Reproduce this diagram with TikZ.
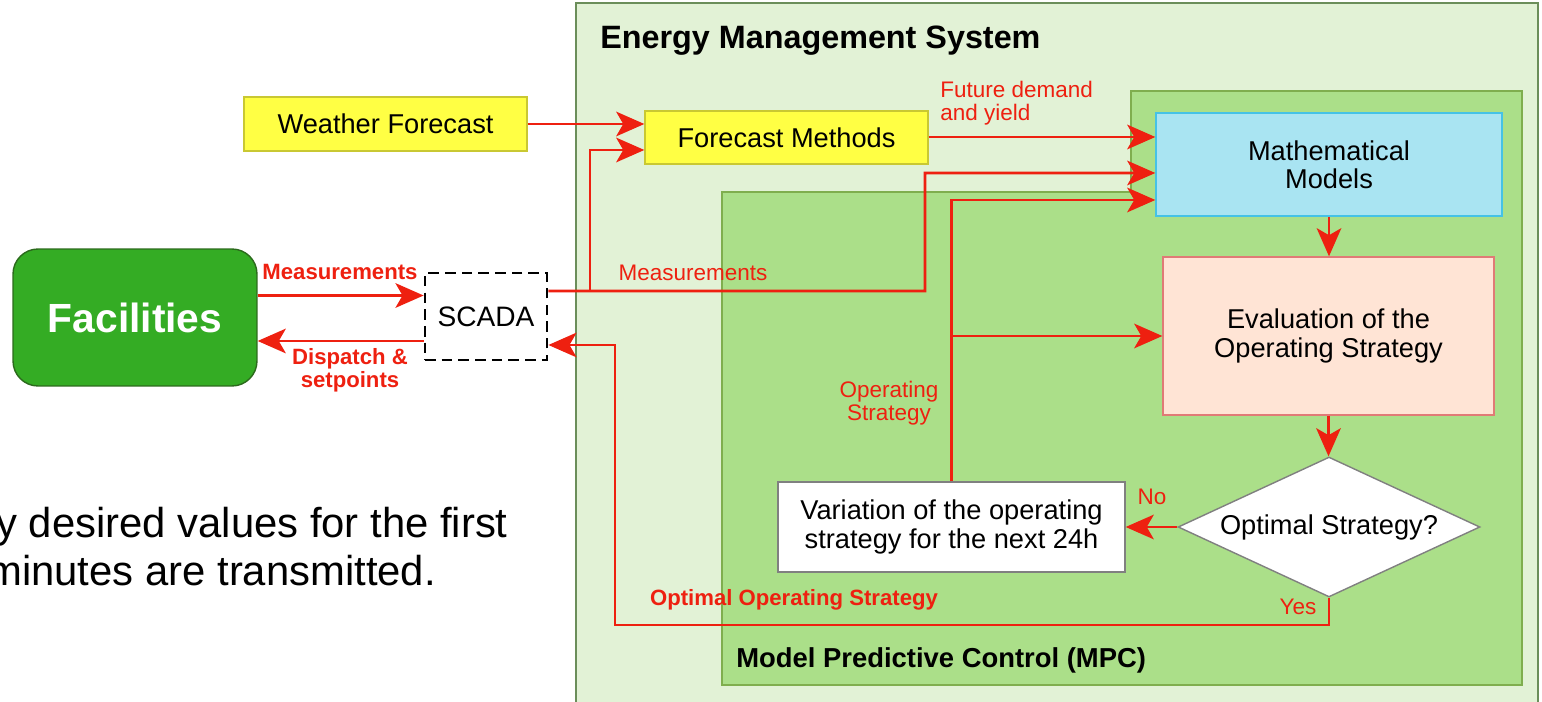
\documentclass[tikz,border=0pt]{standalone}
\usepackage{fontspec}
\setmainfont{Liberation Sans}
\usetikzlibrary{arrows.meta, positioning, calc, shapes.geometric}
\definecolor{flowred}{HTML}{EE2010}
\definecolor{emsfill}{HTML}{E2F2D6}
\definecolor{emsline}{HTML}{6B8E5A}
\definecolor{mpcfill}{HTML}{ABDF89}
\definecolor{mpcline}{HTML}{7FAE4E}
\definecolor{facfill}{HTML}{34AC24}
\definecolor{facline}{HTML}{2B6A1C}
\definecolor{fcfill}{HTML}{FFFF44}
\definecolor{fcline}{HTML}{C9C832}
\definecolor{modfill}{HTML}{A9E4F2}
\definecolor{modline}{HTML}{45C2E6}
\definecolor{evalfill}{HTML}{FFE4D5}
\definecolor{evalline}{HTML}{E07A76}

\tikzset{
  box/.style={draw, line width=0.8pt, inner sep=0pt, align=center,
    font=\fontsize{15.5}{16}\selectfont},
  flow/.style={draw=flowred, line width=1.5pt,
    -{Stealth[length=16pt, width=14pt, inset=4pt]}},
  wire/.style={draw=flowred, line width=1.5pt},
  lbl/.style={text=flowred, inner sep=0pt, align=center,
    font=\fontsize{12.8}{13}\selectfont},
  blbl/.style={text=flowred, inner sep=0pt, align=center,
    font=\bfseries\fontsize{12.6}{13}\selectfont},
}

\begin{document}
\begin{tikzpicture}[x=0.02cm, y=-0.02cm]
  \useasboundingbox (0,0) rectangle (1542,702);

  % Slide text behind the diagram
  \node[anchor=base east, inner sep=0pt, font=\fontsize{23.8}{26}\selectfont]
    (txtA) at (508,537) {y desired values for the first};
  \node[anchor=base west, inner sep=0pt, font=\fontsize{23.8}{26}\selectfont]
    (txtB) at (-13,585) {minutes are transmitted.};

  % EMS frame and MPC area
  \draw[emsline, fill=emsfill, line width=0.8pt] (576,3) rectangle (1538,740);
  \node[anchor=west, inner sep=0pt, font=\bfseries\fontsize{18.4}{20}\selectfont]
    (emsT) at (600,41) {Energy Management System};
  \draw[mpcline, fill=mpcfill, line width=0.8pt]
    (722,192) -- (1131,192) -- (1131,91) -- (1522,91) -- (1522,685) -- (722,685) -- cycle;
  \node[anchor=west, inner sep=0pt, font=\bfseries\fontsize{15.6}{17}\selectfont]
    (mpcT) at (736,660) {Model Predictive Control (MPC)};

  % Nodes
  \node[box, draw=facline, fill=facfill, rounded corners=0.5cm,
    minimum width=4.88cm, minimum height=2.74cm, text=white,
    font=\bfseries\fontsize{23.2}{25}\selectfont] (fac) at (135,317.5) {Facilities};
  \node[box, line width=1.6pt, dash pattern=on 6pt off 3.5pt,
    minimum width=2.44cm, minimum height=1.74cm,
    font=\fontsize{16}{17}\selectfont] (scada) at (486,316.5) {SCADA};
  \node[box, draw=fcline, fill=fcfill, minimum width=5.66cm, minimum height=1.08cm]
    (weather) at (385.5,124) {Weather Forecast};
  \node[box, draw=fcline, fill=fcfill, minimum width=5.66cm, minimum height=1.06cm]
    (forecast) at (786.5,137.5) {Forecast Methods};
  \node[box, draw=modline, fill=modfill, minimum width=6.92cm, minimum height=2.06cm]
    (math) at (1329,164.5) {Mathematical\\Models};
  \node[box, draw=evalline, fill=evalfill, minimum width=6.62cm, minimum height=3.16cm]
    (eval) at (1328.5,336) {Evaluation of the\\Operating Strategy};
  \node[box, diamond, aspect=2.16, draw=gray, fill=white,
    minimum width=6.04cm, minimum height=2.8cm]
    (opt) at (1329,527) {Optimal Strategy?};
  \node[box, draw=gray, fill=white, minimum width=6.94cm, minimum height=1.8cm]
    (var) at (951.5,527) {Variation of the operating\\strategy for the next 24h};

  % Facilities <-> SCADA
  \draw[flow] ([yshift=0.44cm]fac.east) -- ([yshift=0.44cm]fac.east -| scada.west);
  \draw[flow] ([yshift=-0.49cm]scada.west) -- ([yshift=-0.49cm]scada.west -| fac.east);
  \node[blbl] (lmeasA) at (340,272) {Measurements};
  \node[blbl] (ldisp) at (350,370) {Dispatch \&\\setpoints};

  % Measurements into the EMS
  \draw[flow] ([yshift=0.51cm]scada.east) -- (925,291) |- ([yshift=-0.17cm]math.west);
  \draw[flow] (590,291) |- ([yshift=-0.25cm]forecast.west);
  \node[lbl] (lmeasB) at (693,273) {Measurements};

  % Forecasts
  \draw[flow] (weather.east) -- (weather.east -| forecast.west);
  \draw[flow] ([yshift=0.01cm]forecast.east) -- ([yshift=0.01cm]forecast.east -| math.west);
  \node[lbl, anchor=west, align=left] (lfut) at (940,103) {Future demand\\and yield};

  % Optimisation loop
  \draw[flow] (math.south) -- (math.south |- eval.north);
  \draw[flow] (eval.south) -- (eval.south |- opt.north);
  \draw[flow] (opt.west) -- (var.east);
  \node[lbl] (lno) at (1152,497) {No};
  \draw[flow] (var.north) |- ([yshift=-0.71cm]math.west);
  \draw[flow] (var.north |- eval.west) -- (eval.west);
  \node[lbl] (lstrat) at (889,403) {Operating\\Strategy};

  % Optimal strategy back to SCADA
  \draw[flow] (opt.south) |- (615,625) |- ([yshift=-0.57cm]scada.east);
  \node[lbl] (lyes) at (1298,607) {Yes};
  \node[blbl] (lopt) at (794,600) {Optimal Operating Strategy};
\end{tikzpicture}
\end{document}
